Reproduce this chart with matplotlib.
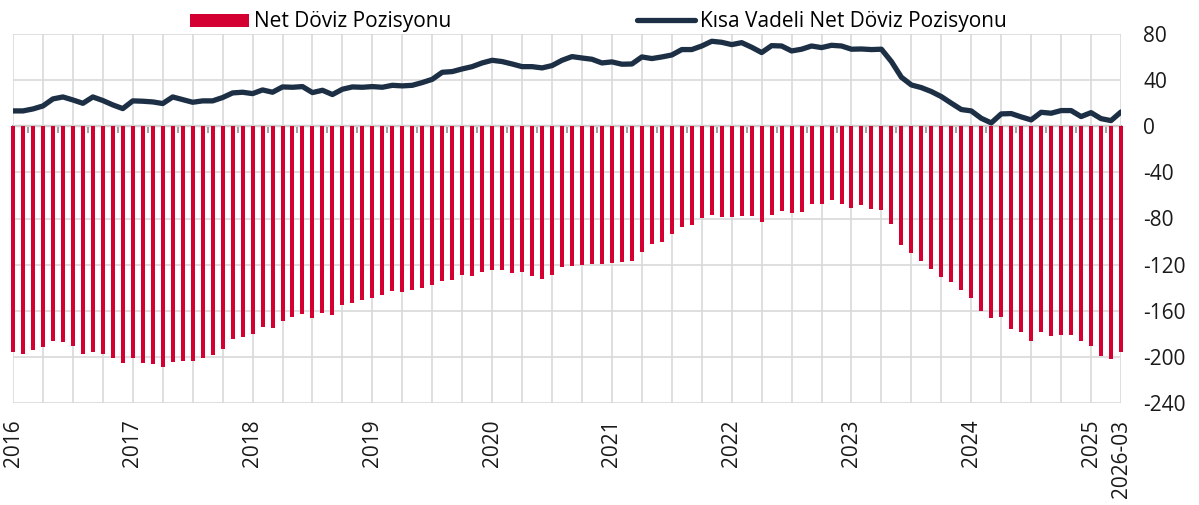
import numpy as np
import matplotlib.pyplot as plt

plt.rcParams['font.family'] = ['Open Sans', 'DejaVu Sans']
plt.rcParams['axes.unicode_minus'] = False

# monthly values (billion USD)
net_pos = [-196.1, -197.3, -193.8, -191.2, -186.3, -187.2, -190.9, -197.6, -195.6, -197.9,
           -201.0, -205.4, -201.0, -205.7, -206.2, -208.8, -204.5, -203.6, -203.9, -201.0,
           -198.1, -193.2, -184.6, -183.1, -180.2, -173.9, -175.3, -168.7, -165.8, -162.6,
           -166.3, -162.3, -164.0, -155.4, -153.0, -150.4, -149.0, -146.1, -142.6, -143.8,
           -141.8, -140.6, -138.0, -134.5, -133.7, -128.8, -129.9, -126.2, -125.0, -124.4,
           -127.0, -126.2, -129.9, -132.8, -129.1, -122.4, -121.0, -120.7, -119.8, -119.5,
           -118.4, -117.5, -116.9, -109.4, -102.2, -100.4, -93.2, -87.1, -86.0, -79.9,
           -76.7, -78.5, -78.5, -77.8, -77.9, -82.8, -77.0, -73.3, -75.0, -74.7,
           -67.8, -67.2, -64.3, -67.8, -70.7, -68.6, -71.5, -72.4, -84.8, -103.3,
           -109.7, -116.6, -124.1, -130.5, -135.1, -141.8, -148.7, -160.6, -166.6, -165.5,
           -176.2, -178.2, -186.3, -178.5, -181.7, -181.4, -181.4, -186.3, -190.3, -199.0,
           -201.6, -195.5]

short_pos = [13.3, 13.3, 15.0, 17.6, 23.7, 25.4, 22.8, 19.9, 25.4, 22.3,
             18.5, 15.3, 22.0, 21.7, 21.1, 19.7, 25.4, 23.1, 20.8, 22.0,
             22.0, 24.9, 28.9, 29.5, 28.3, 31.5, 29.5, 34.1, 33.8, 34.4,
             29.2, 31.2, 27.5, 32.1, 34.1, 33.8, 34.4, 33.8, 35.5, 35.0,
             35.5, 37.9, 40.7, 46.8, 47.4, 49.7, 51.7, 54.9, 57.2, 56.1,
             54.0, 51.7, 51.7, 50.6, 52.6, 57.2, 60.4, 59.2, 58.1, 54.9,
             55.8, 53.8, 54.0, 60.1, 58.7, 60.1, 61.8, 66.5, 66.5, 69.6,
             73.7, 72.8, 70.8, 72.5, 68.5, 63.9, 69.9, 69.6, 65.3, 66.8,
             69.6, 68.2, 70.2, 69.6, 66.8, 67.0, 66.5, 66.8, 56.1, 42.5,
             35.8, 33.5, 30.1, 25.7, 20.0, 14.5, 13.3, 6.9, 2.9, 10.7,
             11.0, 8.1, 5.5, 12.1, 11.3, 13.6, 13.6, 8.4, 11.8, 6.6,
             4.9, 12.4]

tick_pos = [0, 12, 24, 36, 48, 60, 72, 84, 96, 108, 111]
tick_labels = ['2016', '2017', '2018', '2019', '2020', '2021', '2022', '2023', '2024', '2025', '2026-03']

RED = '#d50032'
NAVY = '#1c2f45'
GRID = '#d9d9d9'

x = np.arange(len(net_pos))

fig = plt.figure(figsize=(11.99, 5.05), dpi=100)
ax = fig.add_axes([13/1199, 1 - 403/505, (1121-13)/1199, (403-34)/505])

bars = ax.bar(x, net_pos, width=0.4, color=RED, clip_on=False, zorder=2, label='Net Döviz Pozisyonu')
line, = ax.plot(x, short_pos, color=NAVY, lw=3.8, solid_capstyle='round', solid_joinstyle='round',
                zorder=3, label='Kısa Vadeli Net Döviz Pozisyonu')

ax.set_xlim(0, len(net_pos) - 1)
ax.set_ylim(-240, 80)
ax.set_yticks(np.arange(-240, 81, 40))
ax.yaxis.tick_right()
ax.tick_params(axis='y', length=0, pad=16, labelsize=15, colors='#1a1a1a')

ax.xaxis.remove_overlapping_locs = False
ax.set_xticks(tick_pos)
ax.set_xticklabels(tick_labels, rotation=90, fontsize=15, color='#1a1a1a')
ax.set_xticks(np.arange(0, len(net_pos), 3), minor=True)
ax.tick_params(axis='x', which='both', length=0, pad=12)

ax.grid(axis='y', color=GRID, lw=1.2, zorder=0)
ax.grid(axis='x', which='minor', color=GRID, lw=1.2, zorder=0)
ax.set_axisbelow(True)
for s in ax.spines.values():
    s.set_visible(False)

# zero line with small ticks
zero = ax.secondary_xaxis(0.75)
zero.set_xticks(np.arange(0, len(net_pos), 1.5))
zero.tick_params(axis='x', direction='in', length=5, width=1.3, color='#9a9a9a', labeltop=False, labelbottom=False)
for side in ['top', 'bottom']:
    zero.spines[side].set_color('#9a9a9a')
    zero.spines[side].set_linewidth(1.6)

fig.legend(handles=[bars, line], loc='upper left', bbox_to_anchor=(179/1199, 1.0), ncol=2, frameon=False,
           fontsize=15, handlelength=2.8, handleheight=0.6, handletextpad=0.25,
           columnspacing=8.9, borderaxespad=0.15)

plt.savefig('out.png', dpi=100)
